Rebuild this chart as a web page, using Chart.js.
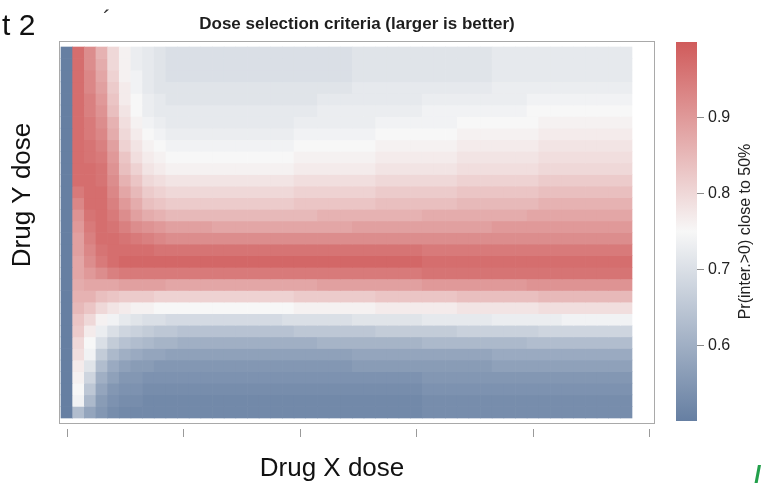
<!DOCTYPE html>
<html><head><meta charset="utf-8">
<script src="https://cdn.jsdelivr.net/npm/chart.js@4.4.0/dist/chart.umd.min.js"></script>
<style>
html,body{margin:0;padding:0;background:#fff;}
#wrap{position:relative;width:763px;height:483px;overflow:hidden;background:#fff;}
#main{position:absolute;left:0;top:0;}
#cbar{position:absolute;left:660px;top:0;}
</style></head><body>
<div id="wrap">
<canvas id="main" width="763" height="483"></canvas>
<canvas id="cbar" width="103" height="483"></canvas>
</div>
<script>
// ---- data ----
const doseX = [0,2,4,6,8,10,12,14,16,18,20,22,24,26,28,30,32,34,36,38,40,42,44,46,48,50,52,54,56,58,60,62,64,66,68,70,72,74,76,78,80,82,84,86,88,90,92,94,96];
const doseY = [62,60,58,56,54,52,50,48,46,44,42,40,38,36,34,32,30,28,26,24,22,20,18,16,14,12,10,8,6,4,2,0];
const xTickValues = [0,20,40,60,80,100];
const colorbarTicks = [0.6,0.7,0.8,0.9];
// Pr(inter.>0) close to 50%, in percent; one row per Drug Y dose (top row first), one column per Drug X dose
const zPercent = [
[50,97,92,86,80,76,73,72,71,70,70,70,70, 70,70,70,70,70,70, 70,70,70,70,70,70, 71,71,71,71,71,71, 71,71,71,71,71,71, 72,72,72,72,72,72, 72,72,72,72,72,72],
[50,97,92,87,80,76,73,72,71,70,70,70,70, 70,70,70,70,70,70, 70,70,70,70,70,70, 71,71,71,71,71,71, 71,71,71,71,71,71, 72,72,72,72,72,72, 72,72,72,72,72,72],
[50,97,93,88,81,76,74,72,71,70,70,70,70, 70,70,70,70,70,70, 70,70,70,70,70,70, 71,71,71,71,71,71, 71,71,71,71,71,71, 72,72,72,72,72,72, 72,72,72,72,72,72],
[50,97,93,89,82,77,74,72,71,71,71,71,71, 71,71,71,71,71,71, 71,71,71,71,71,71, 72,72,72,72,72,72, 72,72,72,72,72,72, 73,73,73,73,73,73, 73,73,73,73,73,73],
[50,97,94,90,83,77,75,73,72,71,71,71,71, 71,71,71,71,71,71, 71,71,71,72,72,72, 72,72,72,72,72,72, 73,73,73,73,73,73, 73,73,73,74,74,74, 74,74,74,74,74,74],
[50,97,94,91,84,78,75,73,72,72,72,72,72, 72,72,72,72,72,72, 72,72,72,73,73,73, 73,73,73,73,73,73, 74,74,74,74,74,74, 74,74,74,75,75,75, 75,75,75,75,75,75],
[50,97,95,92,86,79,76,74,73,72,72,72,72, 72,72,72,72,72,72, 72,73,73,73,73,73, 73,73,74,74,74,74, 74,74,74,75,75,75, 75,75,75,75,76,76, 76,76,76,76,76,76],
[50,97,95,93,87,80,77,75,74,73,73,73,73, 73,73,73,73,73,73, 73,74,74,74,74,74, 74,74,75,75,75,75, 75,75,75,76,76,76, 76,76,76,76,77,77, 77,77,77,77,77,77],
[50,97,96,94,89,81,78,76,75,74,74,74,74, 74,74,74,74,74,74, 74,75,75,75,75,75, 75,75,76,76,76,76, 76,76,76,77,77,77, 77,77,77,77,78,78, 78,78,78,78,78,78],
[50,97,96,95,90,83,79,77,76,75,75,75,75, 75,75,75,75,75,75, 75,76,76,76,76,76, 76,76,77,77,77,77, 77,77,77,78,78,78, 78,78,78,78,79,79, 79,79,79,79,79,79],
[50,97,97,96,91,84,81,78,77,76,76,76,76, 76,76,76,76,76,76, 76,77,77,77,77,77, 77,77,78,78,78,78, 78,78,78,79,79,79, 79,79,79,79,80,80, 80,80,80,80,80,80],
[50,97,97,96,92,86,83,80,79,78,78,78,78, 78,78,78,78,78,78, 78,79,79,79,79,79, 79,79,80,80,80,80, 80,80,80,81,81,81, 81,81,81,81,82,82, 82,82,82,82,82,82],
[50,95,97,97,93,88,85,82,81,80,80,80,80, 80,80,80,80,80,80, 80,81,81,81,81,81, 81,81,82,82,82,82, 82,82,82,83,83,83, 83,83,83,83,84,84, 84,84,84,84,84,84],
[50,93,97,97,94,90,87,84,83,82,82,82,82, 82,82,82,82,82,82, 82,83,83,83,83,83, 83,83,84,84,84,84, 84,84,84,85,85,85, 85,85,85,85,86,86, 86,86,86,86,86,86],
[50,91,96,97,95,92,89,87,86,85,85,85,85, 85,85,85,85,85,85, 85,85,85,86,86,86, 86,86,86,86,86,86, 87,87,87,87,87,87, 87,87,87,88,88,88, 88,88,88,88,88,88],
[50,90,95,97,96,94,92,91,90,89,89,89,89, 88,88,88,88,88,88, 88,88,88,88,88,88, 89,89,89,89,89,89, 89,89,89,89,89,89, 90,90,90,90,90,90, 90,90,90,90,90,90],
[50,89,94,97,97,96,95,94,93,92,92,92,92, 92,92,92,92,92,92, 92,92,92,92,92,92, 92,92,92,92,92,92, 92,92,92,92,92,92, 92,92,92,92,92,92, 92,92,92,92,92,92],
[50,89,93,96,97,97,97,97,96,96,96,96,96, 96,96,96,96,96,96, 96,96,96,96,96,96, 96,96,96,96,96,96, 95,95,95,95,95,95, 95,95,95,95,95,95, 95,95,95,95,95,95],
[50,88,92,95,97,98,98,98,98,98,98,98,98, 98,98,98,98,98,98, 98,98,98,98,98,98, 98,98,98,98,98,98, 97,97,97,97,97,97, 97,97,97,97,97,97, 97,97,97,97,97,97],
[50,88,90,92,94,95,95,95,95,95,95,95,95, 95,95,95,95,95,95, 95,95,95,95,95,95, 95,95,95,95,95,95, 96,96,96,96,96,96, 96,96,96,96,96,96, 96,96,96,96,96,96],
[50,87,88,88,88,89,89,89,89,88,88,88,88, 88,88,88,88,88,88, 88,88,88,89,89,89, 89,89,89,89,89,89, 90,90,90,90,90,90, 90,90,90,91,91,91, 91,91,91,91,91,91],
[50,86,86,84,83,82,82,82,81,81,81,81,81, 81,81,81,81,81,81, 81,82,82,82,82,82, 82,82,83,83,83,83, 83,83,83,84,84,84, 84,84,84,84,85,85, 85,85,85,85,85,85],
[50,85,83,80,78,77,76,76,75,75,75,75,75, 75,75,75,75,75,75, 75,76,76,76,76,76, 76,76,77,77,77,77, 77,77,77,78,78,78, 78,78,78,78,79,79, 79,79,79,79,79,79],
[50,83,80,76,74,72,71,70,70,69,69,69,69, 69,69,69,69,69,69, 70,70,70,70,70,70, 71,71,71,71,71,71, 72,72,72,72,72,72, 73,73,73,73,73,73, 74,74,74,74,74,74],
[50,82,77,73,70,68,67,66,65,65,64,64,64, 64,64,64,64,64,64, 64,65,65,65,65,65, 65,65,66,66,66,66, 66,66,66,67,67,67, 67,67,67,67,68,68, 68,68,68,68,68,68],
[50,80,75,70,66,64,63,62,61,61,60,60,60, 60,60,60,60,60,60, 60,60,60,61,61,61, 61,61,61,61,61,61, 62,62,62,62,62,62, 62,62,62,63,63,63, 63,63,63,63,63,63],
[50,79,74,66,62,60,59,58,58,57,57,57,57, 57,57,57,57,57,57, 57,57,57,57,57,57, 58,58,58,58,58,58, 58,58,58,58,58,58, 59,59,59,59,59,59, 59,59,59,59,59,59],
[50,77,71,63,59,57,56,56,55,55,55,55,55, 55,55,55,55,55,55, 55,55,55,55,55,55, 56,56,56,56,56,56, 56,56,56,56,56,56, 57,57,57,57,57,57, 57,57,57,57,57,57],
[50,76,68,60,57,55,55,54,54,54,54,54,54, 54,54,54,54,54,54, 54,54,54,54,54,54, 54,54,54,54,54,54, 55,55,55,55,55,55, 55,55,55,55,55,55, 55,55,55,55,55,55],
[50,75,65,58,55,54,54,53,53,53,53,53,53, 53,53,53,53,53,53, 53,53,53,53,53,53, 53,53,53,53,53,53, 54,54,54,54,54,54, 54,54,54,54,54,54, 54,54,54,54,54,54],
[50,74,62,56,54,53,53,52,52,52,52,52,52, 52,52,52,52,52,52, 52,52,52,52,52,52, 52,52,52,52,52,52, 53,53,53,53,53,53, 53,53,53,53,53,53, 53,53,53,53,53,53],
[50,63,58,55,53,52,52,52,52,52,52,52,52, 52,52,52,52,52,52, 52,52,52,52,52,52, 52,52,52,52,52,52, 53,53,53,53,53,53, 53,53,53,53,53,53, 53,53,53,53,53,53]
];

// ---- style ----
const FONT = "'Liberation Sans', Arial, Helvetica, sans-serif";
const vMin = 0.5, vMid = 0.75, vMax = 1.0;
const cLow = [102,127,162], cMid = [247,247,247], cHigh = [208,91,91];
function mix(a,b,t){return a.map((v,i)=>Math.round(v+(b[i]-v)*t));}
function colorFor(v){
  v = Math.max(vMin, Math.min(vMax, v));
  const c = v <= vMid ? mix(cLow,cMid,(v-vMin)/(vMid-vMin)) : mix(cMid,cHigh,(v-vMid)/(vMax-vMid));
  return 'rgb('+c.join(',')+')';
}

zPercent.forEach((row,i)=>{ if(row.length!==doseX.length) throw new Error('row '+i+' has '+row.length); });
if (zPercent.length !== doseY.length) throw new Error('rows '+zPercent.length);

const halfY = Math.abs(doseY[0]-doseY[1])/2;
const datasets = doseY.map((y,t)=>({
  data: doseX.map(x=>({x:x, y:[y-halfY, y+halfY]})),
  backgroundColor: zPercent[t].map(p=>colorFor(p/100)),
  borderWidth: 0,
  barPercentage: 1,
  categoryPercentage: 1,
  grouped: false
}));

const decor = {
  id:'decor',
  afterDraw(chart){
    const {ctx, chartArea:a, scales:{x}} = chart;
    ctx.save();
    ctx.strokeStyle = '#a9a9a9'; ctx.lineWidth = 1;
    ctx.strokeRect(a.left+0.5, a.top+0.5, a.right-a.left-1, a.bottom-a.top-1);
    ctx.strokeStyle = '#9a9a9a';
    xTickValues.forEach(v=>{
      const px = Math.round(x.getPixelForValue(v))+0.5;
      ctx.beginPath(); ctx.moveTo(px, a.bottom+5); ctx.lineTo(px, a.bottom+13); ctx.stroke();
    });
    ctx.fillStyle = '#111';
    ctx.font = '26px '+FONT; ctx.textAlign = 'center'; ctx.textBaseline = 'middle';
    ctx.fillText('Drug X dose', 332, 469);
    ctx.save(); ctx.translate(23, 195); ctx.rotate(-Math.PI/2); ctx.fillText('Drug Y dose', 0, 0); ctx.restore();
    ctx.textAlign = 'left'; ctx.textBaseline = 'alphabetic';
    ctx.font = '30px '+FONT; ctx.fillText('t 2', 2, 35);
    ctx.fillStyle = '#333'; ctx.font = '24px '+FONT; ctx.fillText('\u00B4', 103, 27);
    ctx.fillStyle = '#22a04b'; ctx.font = 'bold 26px '+FONT; ctx.fillText('/', 754, 484);
    ctx.restore();
  }
};

new Chart(document.getElementById('main'), {
  type:'bar',
  data:{datasets},
  options:{
    responsive:false, animation:false, devicePixelRatio:1,
    layout:{padding:{left:59,right:108,top:0,bottom:59}},
    plugins:{
      legend:{display:false}, tooltip:{enabled:false},
      title:{display:true, text:'Dose selection criteria (larger is better)', color:'#1e1e1e',
        font:{family:FONT,size:17,weight:'bold',lineHeight:1.2}, padding:{top:13.8,bottom:6.8}}
    },
    scales:{
      x:{type:'linear', display:false, offset:false, min:-1.343, max:100.947,
         grid:{offset:false},
         afterBuildTicks:s=>{s.ticks = xTickValues.map(v=>({value:v}));}},
      y:{type:'linear', display:false, min:-2.035, max:64.035}
    }
  },
  plugins:[decor]
});

const cbarTitle = {
  id:'cbarTitle',
  afterDraw(chart){
    const {ctx, chartArea:a} = chart;
    ctx.save();
    ctx.font = '16px '+FONT; ctx.fillStyle = '#222'; ctx.textAlign = 'center'; ctx.textBaseline = 'middle';
    ctx.translate(86, (a.top+a.bottom)/2); ctx.rotate(-Math.PI/2);
    ctx.fillText('Pr(inter.>0) close to 50%', 0, 0);
    ctx.restore();
  }
};

function rampFill(context){
  const chart = context.chart; const a = chart.chartArea;
  if (!a) return null;
  const ys = chart.scales.y;
  const g = chart.ctx.createLinearGradient(0, ys.getPixelForValue(vMin), 0, ys.getPixelForValue(vMax));
  g.addColorStop(0, colorFor(vMin));
  g.addColorStop((vMid-vMin)/(vMax-vMin), colorFor(vMid));
  g.addColorStop(1, colorFor(vMax));
  return g;
}

new Chart(document.getElementById('cbar'), {
  type:'bar',
  data:{labels:[''], datasets:[{data:[[vMin,vMax]], backgroundColor:rampFill, borderWidth:0, barPercentage:1, categoryPercentage:1}]},
  options:{
    responsive:false, animation:false, devicePixelRatio:1,
    layout:{padding:{left:16,top:42,bottom:62,right:0}},
    plugins:{legend:{display:false}, tooltip:{enabled:false}},
    scales:{
      x:{display:false},
      y:{position:'right', min:vMin, max:vMax,
         afterBuildTicks:s=>{s.ticks = colorbarTicks.map(v=>({value:v}));},
         afterFit:s=>{s.width = 66;},
         grid:{drawOnChartArea:false, drawTicks:true, tickLength:7, color:'#8c8c8c'},
         border:{display:false},
         ticks:{font:{family:FONT,size:16}, color:'#222', padding:4, callback:v=>Number(v).toFixed(1)}}
    }
  },
  plugins:[cbarTitle]
});
</script>
</body></html>
